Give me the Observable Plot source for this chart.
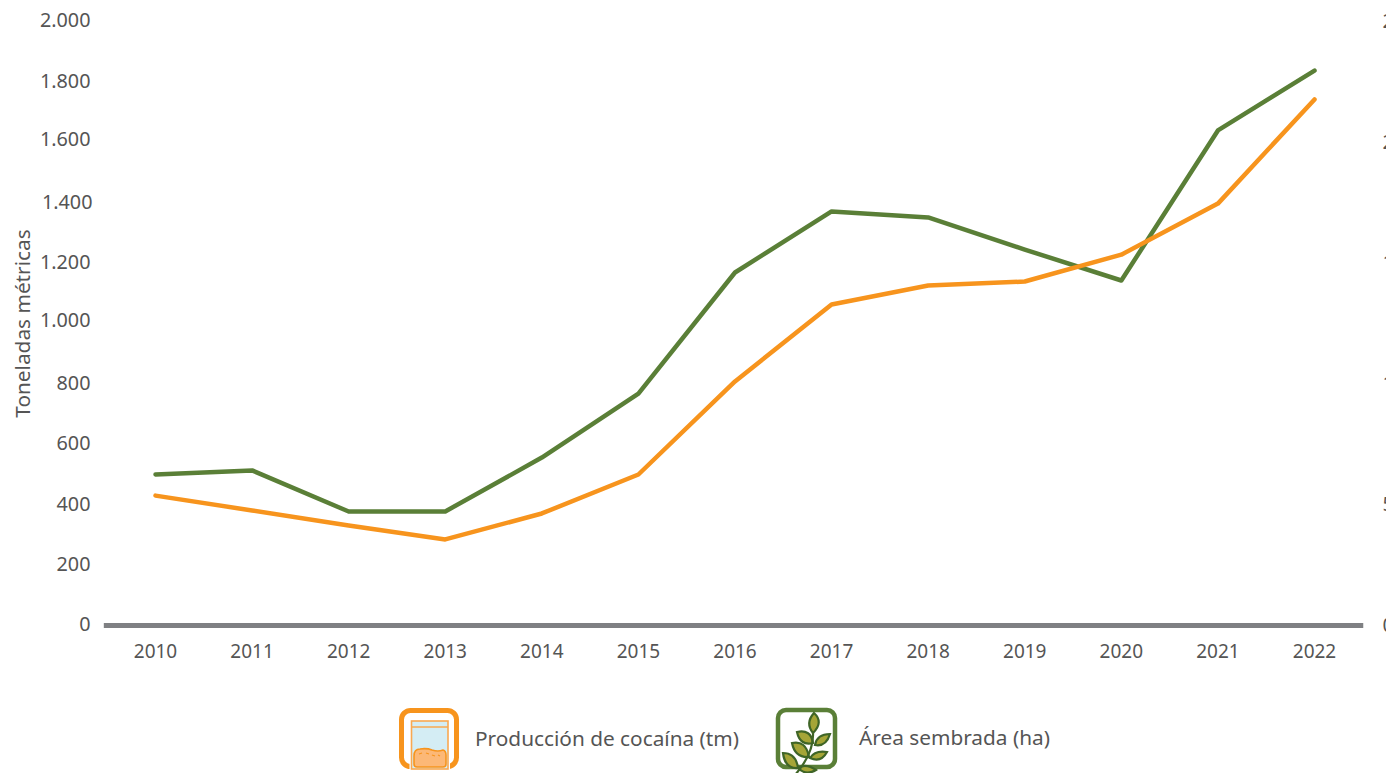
<!DOCTYPE html>
<html>
<head>
<meta charset="utf-8">
<script src="https://cdn.jsdelivr.net/npm/d3@7"></script>
<script src="https://cdn.jsdelivr.net/npm/@observablehq/plot@0.6"></script>
<style>
html,body{margin:0;padding:0;background:#fff;width:1386px;height:773px;overflow:hidden}
#chart svg{display:block;overflow:hidden}
#legend{position:relative;height:93px;font-family:"Noto Sans",sans-serif;font-size:20.8px;color:#555}
#legend span{position:absolute;white-space:nowrap;line-height:24px}
#legend svg{position:absolute}
</style>
</head>
<body>
<div id="chart"></div>
<div id="legend">
<svg style="left:398px;top:27px" width="62" height="66" viewBox="0 0 62 66">
<rect x="3.5" y="3.5" width="55" height="56" rx="9" fill="#fff" stroke="#f7941d" stroke-width="5"/>
<rect x="13.5" y="14" width="36.5" height="48" fill="#d4edf4" stroke="#fff" stroke-width="4"/>
<rect x="13.5" y="14" width="36.5" height="48" fill="#d4edf4" stroke="#f9a851" stroke-width="1.6"/>
<line x1="13.5" y1="20" x2="50" y2="20" stroke="#f9a851" stroke-width="1.6"/>
<path d="M16 49q0-7 6-7q7-1 12 1q6 2 11 0q3 1 3 5v9q0 3-3 3H19q-3 0-3-3z" fill="#fcb877" stroke="#f7941d" stroke-width="1.6"/>
<path d="M21 47l3-1M28 46l3 1M34 48l3 1M40 48l2 1" stroke="#f7941d" stroke-width="1.2" fill="none"/>
</svg>
<span style="left:475px;top:46px">Producción de cocaína (tm)</span>
<svg style="left:775px;top:27px" width="64" height="66" viewBox="0 0 64 66">
<rect x="3" y="3" width="57" height="57" rx="8" fill="#fff" stroke="#5a7f37" stroke-width="4.5"/>
<g stroke="#3f6527" stroke-width="2.2" fill="#a5a537">
<path d="M39 6Q49 15 38 26Q30 16 39 6z"/>
<path d="M22 25Q36 22 38 36Q25 39 22 25z"/>
<path d="M55 27Q51 40 40 38Q42 27 55 27z"/>
<path d="M17 36Q31 33 34 50Q20 51 17 36z"/>
<path d="M52 45Q46 56 35 51Q40 43 52 45z"/>
<path d="M8 46Q21 46 23 61Q10 62 8 46z"/>
<path d="M23 61Q31 56 41 63Q31 69 23 61z"/>
<path d="M38 26Q39 46 20 68" fill="none"/>
</g>
</svg>
<span style="left:859px;top:45px">Área sembrada (ha)</span>
</div>
<script>
const years = [2010,2011,2012,2013,2014,2015,2016,2017,2018,2019,2020,2021,2022];
const produccion = [430,381,331,285,371,500,808,1063,1126,1139,1228,1397,1742];
const area = [62500,64200,47200,47200,69500,96000,146100,171400,168900,155600,142800,204900,229700];
const leftTicks = [0,200,400,600,800,1200,1800,2000];
const leftTicksRaised = [1000,1600];
const leftTicksShifted = [1400];
const rightTicks = [0,50000,100000,150000,200000,250000];
const areaFactor = 2000/250000;
const es = v => d3.format(",")(v).replace(/,/g,".");
const green = "#5a7f37", orange = "#f7941d", textColor = "#555", baseColor = "#7f8083";
const prodData = years.map((y,i)=>({year:y,value:produccion[i]}));
const areaData = years.map((y,i)=>({year:y,value:area[i]*areaFactor}));
const leftAxis = (ticks,dx,dy) => Plot.axisY({ticks,tickFormat:es,tickSize:0,tickPadding:0,dx,dy,textAnchor:"end",fill:textColor,fontSize:19.8,label:null});
const chart = Plot.plot({
  width:1386,height:680,
  marginLeft:155,marginRight:72,marginTop:21,marginBottom:55,
  style:{fontFamily:'"Noto Sans",sans-serif',fontSize:"19px",color:textColor,background:"#fff"},
  x:{type:"linear",domain:[2010,2022]},
  y:{domain:[0,2000]},
  marks:[
    leftAxis(leftTicks,-65,-0.5),
    leftAxis(leftTicksRaised,-65,-2.5),
    leftAxis(leftTicksShifted,-63,-0.5),
    Plot.text(["Toneladas métricas"],{frameAnchor:"left",textAnchor:"middle",dx:-132,rotate:-90,fill:textColor,fontSize:20.8,y:()=>1000}),
    Plot.axisY({anchor:"right",ticks:rightTicks.map(v=>v*areaFactor),tickFormat:v=>es(Math.round(v/areaFactor)),tickSize:0,tickPadding:0,dx:68,textAnchor:"start",fill:textColor,fontSize:19.8,label:null}),
    Plot.axisX({ticks:years,tickFormat:d=>String(d),tickSize:0,tickPadding:18.5,fill:textColor,label:null}),
    Plot.ruleY([0],{x1:2009.47,x2:2022.51,stroke:baseColor,strokeWidth:5}),
    Plot.line(areaData,{x:"year",y:"value",stroke:green,strokeWidth:4.5,curve:"linear"}),
    Plot.line(prodData,{x:"year",y:"value",stroke:orange,strokeWidth:4.5,curve:"linear"})
  ]
});
document.getElementById("chart").appendChild(chart);
</script>
</body>
</html>
